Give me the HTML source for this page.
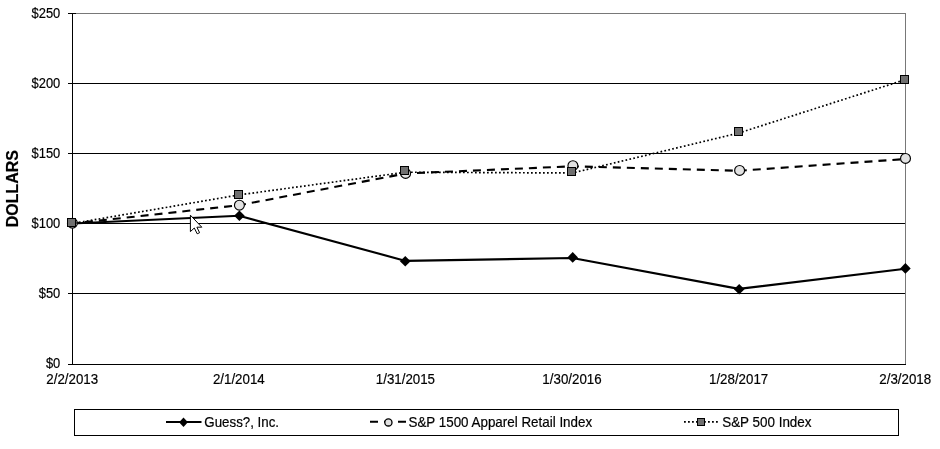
<!DOCTYPE html>
<html><head><meta charset="utf-8"><title>Chart</title>
<style>
html,body{margin:0;padding:0;background:#fff;}
body{width:940px;height:449px;overflow:hidden;}
svg{display:block;will-change:transform;}
text{font-family:"Liberation Sans",sans-serif;font-size:13.33px;fill:#000;stroke:#000;stroke-width:0.18px;}
.b{font-weight:bold;font-size:16px;}
</style></head><body>
<svg width="940" height="449" viewBox="0 0 940 449">
<rect width="940" height="449" fill="#fff"/>
<g shape-rendering="crispEdges" stroke="#000" stroke-width="1" fill="none">
<line x1="72" y1="13.5" x2="906" y2="13.5" stroke="#787878"/>
<line x1="905.5" y1="13" x2="905.5" y2="365" stroke="#787878"/>
<line x1="68" y1="83.5" x2="905" y2="83.5"/>
<line x1="68" y1="153.5" x2="905" y2="153.5"/>
<line x1="68" y1="223.5" x2="905" y2="223.5"/>
<line x1="68" y1="293.5" x2="905" y2="293.5"/>
<line x1="68" y1="13.5" x2="76" y2="13.5"/>
<line x1="68" y1="364.5" x2="906" y2="364.5"/>
<line x1="72.5" y1="13" x2="72.5" y2="365"/>
</g>
<polyline points="72.5,223.5 239.1,215.8 405.7,260.9 572.3,258.0 738.9,288.9 905.5,268.7" fill="none" stroke="#000" stroke-width="2.1" stroke-linejoin="round"/>
<path d="M67.20,223.50 L72.50,218.20 L77.80,223.50 L72.50,228.80 Z" fill="#000"/>
<path d="M234.10,215.70 L239.40,210.40 L244.70,215.70 L239.40,221.00 Z" fill="#000"/>
<path d="M399.95,261.25 L405.25,255.95 L410.55,261.25 L405.25,266.55 Z" fill="#000"/>
<path d="M567.40,257.40 L572.70,252.10 L578.00,257.40 L572.70,262.70 Z" fill="#000"/>
<path d="M733.90,289.30 L739.20,284.00 L744.50,289.30 L739.20,294.60 Z" fill="#000"/>
<path d="M900.10,268.40 L905.40,263.10 L910.70,268.40 L905.40,273.70 Z" fill="#000"/>
<polyline points="72.5,223.5 239.1,205.2 405.7,173.5 572.3,166.3 738.9,170.8 905.5,159.0" fill="none" stroke="#000" stroke-width="2.1" stroke-dasharray="8 6" stroke-dashoffset="1.5"/>
<circle cx="72.40" cy="223.20" r="4.95" fill="#e2e2e2" stroke="#000" stroke-width="1.15"/>
<circle cx="239.40" cy="205.20" r="4.95" fill="#e2e2e2" stroke="#000" stroke-width="1.15"/>
<circle cx="405.60" cy="173.40" r="4.95" fill="#e2e2e2" stroke="#000" stroke-width="1.15"/>
<circle cx="572.90" cy="165.70" r="4.95" fill="#e2e2e2" stroke="#000" stroke-width="1.15"/>
<circle cx="739.60" cy="170.40" r="4.95" fill="#e2e2e2" stroke="#000" stroke-width="1.15"/>
<circle cx="905.50" cy="158.40" r="4.95" fill="#e2e2e2" stroke="#000" stroke-width="1.15"/>
<polyline points="72.5,223.5 239.1,194.9 405.7,172.2 572.3,173.0 738.9,133.0 905.5,79.6" fill="none" stroke="#000" stroke-width="1.7" stroke-dasharray="1.7 2.3" stroke-dashoffset="1.5"/>
<rect x="67.50" y="218.50" width="8" height="8" fill="#707070" stroke="#000" stroke-width="1" shape-rendering="crispEdges"/>
<rect x="234.50" y="190.50" width="8" height="8" fill="#707070" stroke="#000" stroke-width="1" shape-rendering="crispEdges"/>
<rect x="400.50" y="166.50" width="8" height="8" fill="#707070" stroke="#000" stroke-width="1" shape-rendering="crispEdges"/>
<rect x="567.50" y="167.50" width="8" height="8" fill="#707070" stroke="#000" stroke-width="1" shape-rendering="crispEdges"/>
<rect x="734.50" y="127.50" width="8" height="8" fill="#707070" stroke="#000" stroke-width="1" shape-rendering="crispEdges"/>
<rect x="900.50" y="75.50" width="8" height="8" fill="#707070" stroke="#000" stroke-width="1" shape-rendering="crispEdges"/>
<text transform="translate(60.3,17.8) scale(0.97,1.05)" text-anchor="end">$250</text>
<text transform="translate(60.3,87.8) scale(0.97,1.05)" text-anchor="end">$200</text>
<text transform="translate(60.3,157.8) scale(0.97,1.05)" text-anchor="end">$150</text>
<text transform="translate(60.3,227.8) scale(0.97,1.05)" text-anchor="end">$100</text>
<text transform="translate(60.3,297.8) scale(0.97,1.05)" text-anchor="end">$50</text>
<text transform="translate(60.3,367.6) scale(0.97,1.05)" text-anchor="end">$0</text>
<text transform="translate(72.2,383.8) scale(1,1.05)" text-anchor="middle">2/2/2013</text>
<text transform="translate(238.8,383.8) scale(1,1.05)" text-anchor="middle">2/1/2014</text>
<text transform="translate(405.4,383.8) scale(1,1.05)" text-anchor="middle">1/31/2015</text>
<text transform="translate(572.0,383.8) scale(1,1.05)" text-anchor="middle">1/30/2016</text>
<text transform="translate(738.6,383.8) scale(1,1.05)" text-anchor="middle">1/28/2017</text>
<text transform="translate(905.2,383.8) scale(1,1.05)" text-anchor="middle">2/3/2018</text>
<text class="b" transform="translate(18.4,188.7) rotate(-90)" text-anchor="middle">DOLLARS</text>
<rect x="74.5" y="409.5" width="824" height="26" fill="#fff" stroke="#000" stroke-width="1" shape-rendering="crispEdges"/>
<line x1="166" y1="421.9" x2="201.5" y2="421.9" stroke="#000" stroke-width="2"/>
<path d="M179.1,422.2 L183.5,417.6 L187.9,422.2 L183.5,426.9 Z" fill="#000"/>
<text transform="translate(204.3,426.6) scale(1,1.05)">Guess?, Inc.</text>
<line x1="370" y1="421.8" x2="406" y2="421.8" stroke="#000" stroke-width="2" stroke-dasharray="8 6"/>
<circle cx="388.4" cy="422.4" r="3.6" fill="#e2e2e2" stroke="#000" stroke-width="1.3"/>
<text transform="translate(408.5,426.6) scale(1.006,1.05)">S&amp;P 1500 Apparel Retail Index</text>
<line x1="684" y1="421.8" x2="719" y2="421.8" stroke="#000" stroke-width="1.8" stroke-dasharray="1.8 2.2"/>
<rect x="697.5" y="418.5" width="7" height="7" fill="#707070" shape-rendering="crispEdges" stroke="#000" stroke-width="1"/>
<text transform="translate(722.2,426.6) scale(1.008,1.05)">S&amp;P 500 Index</text>
<path transform="translate(190.4,215.2)" d="M0,0 L0,16.4 L3.9,12.8 L6.8,18.6 L9.2,17.5 L6.5,12 L11.4,12 Z" fill="#fff" stroke="#000" stroke-width="1" stroke-linejoin="miter"/>
</svg></body></html>
